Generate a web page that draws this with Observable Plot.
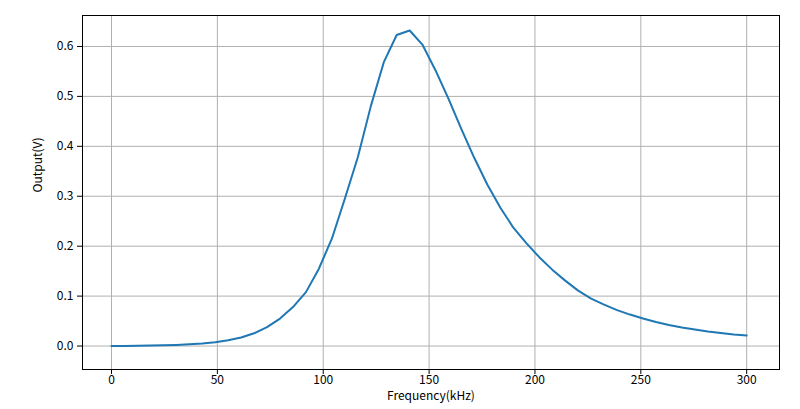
<!DOCTYPE html>
<html>
<head>
<meta charset="utf-8">
<script src="https://cdn.jsdelivr.net/npm/d3@7"></script>
<script src="https://cdn.jsdelivr.net/npm/@observablehq/plot@0.6"></script>
<style>
  html, body { margin: 0; padding: 0; background: #fff; }
</style>
</head>
<body>
<div id="chart"></div>
<script>
const freq = [0, 6.12, 12.24, 18.37, 24.49, 30.61, 36.73, 42.86, 48.98, 55.10,
  61.22, 67.35, 73.47, 79.59, 85.71, 91.84, 97.96, 104.08, 110.20, 116.33,
  122.45, 128.57, 134.69, 140.82, 146.94, 153.06, 159.18, 165.31, 171.43, 177.55,
  183.67, 189.80, 195.92, 202.04, 208.16, 214.29, 220.41, 226.53, 232.65, 238.78,
  244.90, 251.02, 257.14, 263.27, 269.39, 275.51, 281.63, 287.76, 293.88, 300];
const output = [0.000, 0.0002, 0.0005, 0.0009, 0.0015, 0.0023, 0.0035, 0.0052, 0.0078, 0.0115,
  0.017, 0.0255, 0.038, 0.055, 0.078, 0.108, 0.155, 0.215, 0.295, 0.378,
  0.480, 0.568, 0.623, 0.632, 0.603, 0.552, 0.495, 0.434, 0.376, 0.323,
  0.277, 0.237, 0.206, 0.178, 0.153, 0.131, 0.111, 0.095, 0.083, 0.072,
  0.063, 0.055, 0.048, 0.042, 0.037, 0.033, 0.029, 0.026, 0.023, 0.021];
const xTicks = [0, 50, 100, 150, 200, 250, 300];
const yTicks = [0.0, 0.1, 0.2, 0.3, 0.4, 0.5, 0.6];
const xLabel = "Frequency(kHz)";
const yLabel = "Output(V)";

const data = freq.map((f, i) => ({f, v: output[i]}));
const font = "'Noto Sans CJK SC', 'DejaVu Sans', sans-serif";

const chart = Plot.plot({
  width: 800,
  height: 409,
  marginLeft: 82,
  marginRight: 21,
  marginTop: 15,
  marginBottom: 40,
  style: {fontFamily: font, fontSize: "12px", background: "#fff", color: "#000"},
  x: {domain: [-13.7, 315.5]},
  y: {domain: [-0.047, 0.662]},
  marks: [
    Plot.gridX(xTicks, {stroke: "#b0b0b0", strokeOpacity: 1, strokeWidth: 1}),
    Plot.gridY(yTicks, {stroke: "#b0b0b0", strokeOpacity: 1, strokeWidth: 1}),
    Plot.line(data, {x: "f", y: "v", stroke: "#1f77b4", strokeWidth: 2}),
    Plot.frame({stroke: "#000", strokeWidth: 1}),
    Plot.axisX({ticks: xTicks, tickSize: 5, tickPadding: 1, label: null, tickFormat: d3.format("d")}),
    Plot.axisY({ticks: yTicks, tickSize: 5, tickPadding: 4, label: null, tickFormat: d3.format(".1f")}),
    Plot.text([xLabel], {frameAnchor: "bottom", dy: 30, text: d => d, fontSize: 12}),
    Plot.text([yLabel], {frameAnchor: "left", dx: -44, rotate: -90, text: d => d, fontSize: 12})
  ]
});
document.getElementById("chart").appendChild(chart);
</script>
</body>
</html>
